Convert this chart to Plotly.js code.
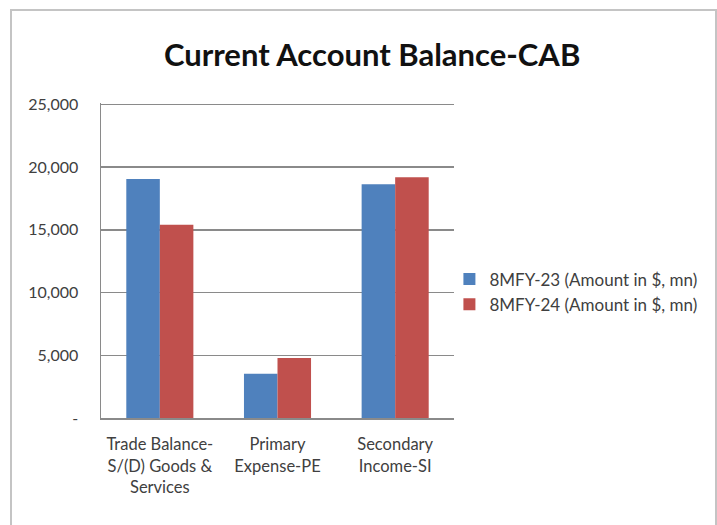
<!DOCTYPE html>
<html>
<head>
<meta charset="utf-8">
<script src="https://cdn.plot.ly/plotly-3.0.1.min.js"></script>
<style>
html,body{margin:0;padding:0;background:#fff;}
#chart{width:717px;height:525px;}
</style>
</head>
<body>
<div id="chart"></div>
<script>
const categories = ["Trade Balance-<br>S/(D) Goods &<br>Services", "Primary<br>Expense-PE", "Secondary<br>Income-SI"];
const seriesNames = ["8MFY-23 (Amount in $, mn)", "8MFY-24 (Amount in $, mn)"];
const fy23 = [19050, 3530, 18630];
const fy24 = [15390, 4780, 19190];
const tickVals = [0, 5000, 10000, 15000, 20000, 25000];
const tickText = ["-", "5,000", "10,000", "15,000", "20,000", "25,000"];

const FONT = "Lato, 'Open Sans', sans-serif";

const traces = [
  {type: "bar", x: categories, y: fy23, name: seriesNames[0], marker: {color: "#4F81BD"}},
  {type: "bar", x: categories, y: fy24, name: seriesNames[1], marker: {color: "#C0504D"}}
];

const PW = 353, PH = 315;
const layout = {
  width: 717, height: 525,
  paper_bgcolor: "#ffffff", plot_bgcolor: "#ffffff",
  margin: {l: 101, r: 263, t: 103, b: 107, pad: 0},
  font: {family: FONT, color: "#404040", size: 15},
  title: {text: "<b>Current Account Balance-CAB</b>", font: {family: FONT, size: 31, color: "#111111"},
          x: 0.519, xanchor: "center", y: 0.895, yanchor: "middle", yref: "container"},
  barmode: "group", bargap: 0.43, bargroupgap: 0,
  xaxis: {showline: true, linecolor: "#8a8a8a", linewidth: 1.5, ticks: "", showgrid: false,
          ticklabelstandoff: 11, tickfont: {size: 16.5, color: "#404040"}},
  yaxis: {range: [0, 25100], tickvals: tickVals, ticktext: tickText, showgrid: true,
          gridcolor: "#8a8a8a", gridwidth: 1.5, showline: true, linecolor: "#8a8a8a", linewidth: 1.5,
          ticks: "", ticklabelstandoff: 18, zeroline: false, tickfont: {size: 16, color: "#404040"}},
  legend: {x: 0.987, xanchor: "left", y: 0.40, yanchor: "middle", font: {size: 17, color: "#404040"},
           itemwidth: 30, tracegroupgap: 2, bgcolor: "rgba(0,0,0,0)"},
  shapes: [{type: "rect", xref: "paper", yref: "paper",
            x0: -90/PW, x1: 615/PW, y0: -120/PH, y1: (418-10)/PH,
            line: {color: "#c4c4c4", width: 2}, fillcolor: "rgba(0,0,0,0)", layer: "below"}]
};

Plotly.newPlot("chart", traces, layout, {displayModeBar: false, staticPlot: true});
</script>
</body>
</html>
